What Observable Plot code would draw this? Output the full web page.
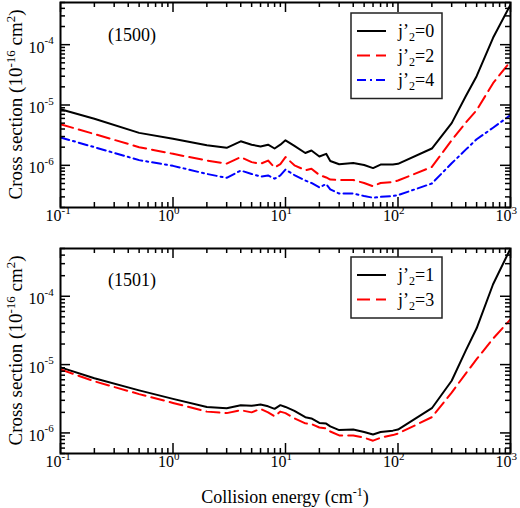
<!DOCTYPE html>
<html>
<head>
<meta charset="utf-8">
<script src="https://cdn.jsdelivr.net/npm/d3@7"></script>
<script src="https://cdn.jsdelivr.net/npm/@observablehq/plot@0.6"></script>
<style>
  body { margin: 0; background: #fff; }
  #chart svg { display: block; }
</style>
</head>
<body>
<div id="chart"></div>
<script>
// collision energies (cm-1), shared by every curve
const energy = [0.1, 0.2, 0.5, 1, 2, 3, 4, 5, 6, 7, 8, 9, 10, 12, 15, 17, 20, 23, 25, 30,
  40, 50, 60, 70, 90, 100, 200, 300, 400, 500, 700, 1000];

// panel (1500)
const j0 = [8.5e-6, 5.9e-6, 3.45e-6, 2.75e-6, 2.15e-6, 1.95e-6, 2.5e-6, 2.2e-6, 2.05e-6, 2.2e-6,
  1.9e-6, 2.2e-6, 2.6e-6, 2.1e-6, 1.6e-6, 1.76e-6, 1.4e-6, 1.55e-6, 1.18e-6, 1.04e-6,
  1.09e-6, 1.01e-6, 0.9e-6, 1.03e-6, 1.03e-6, 1.06e-6, 1.9e-6, 5.0e-6, 1.4e-5, 3.0e-5, 1.3e-4, 4.6e-4];
const j2 = [4.8e-6, 3.3e-6, 2.0e-6, 1.55e-6, 1.2e-6, 1.07e-6, 1.37e-6, 1.13e-6, 1.06e-6, 1.2e-6,
  0.92e-6, 1.05e-6, 1.37e-6, 1.0e-6, 0.83e-6, 0.88e-6, 0.69e-6, 0.63e-6, 0.58e-6, 0.57e-6,
  0.57e-6, 0.51e-6, 0.45e-6, 0.51e-6, 0.53e-6, 0.56e-6, 0.94e-6, 2.6e-6, 5.1e-6, 8.2e-6, 2.3e-5, 5.3e-5];
const j4 = [2.9e-6, 2.0e-6, 1.22e-6, 0.98e-6, 0.72e-6, 0.62e-6, 0.82e-6, 0.72e-6, 0.65e-6, 0.68e-6,
  0.6e-6, 0.68e-6, 0.85e-6, 0.69e-6, 0.56e-6, 0.51e-6, 0.43e-6, 0.49e-6, 0.4e-6, 0.34e-6,
  0.34e-6, 0.31e-6, 0.29e-6, 0.3e-6, 0.31e-6, 0.32e-6, 0.5e-6, 1.08e-6, 1.82e-6, 2.7e-6, 4.2e-6, 6.8e-6];

// panel (1501)
const j1 = [9.1e-6, 6.3e-6, 4.2e-6, 3.15e-6, 2.4e-6, 2.3e-6, 2.55e-6, 2.5e-6, 2.6e-6, 2.45e-6,
  2.25e-6, 2.55e-6, 2.4e-6, 2.1e-6, 1.7e-6, 1.63e-6, 1.4e-6, 1.37e-6, 1.25e-6, 1.1e-6,
  1.12e-6, 1.03e-6, 0.95e-6, 1.03e-6, 1.08e-6, 1.12e-6, 2.3e-6, 5.8e-6, 1.6e-5, 3.4e-5, 1.5e-4, 5.0e-4];
const j3 = [8.5e-6, 5.7e-6, 3.7e-6, 2.75e-6, 2.05e-6, 1.95e-6, 2.15e-6, 2.0e-6, 2.25e-6, 2.0e-6,
  1.75e-6, 2.05e-6, 1.95e-6, 1.64e-6, 1.38e-6, 1.35e-6, 1.2e-6, 1.17e-6, 1.05e-6, 0.92e-6,
  0.92e-6, 0.85e-6, 0.77e-6, 0.85e-6, 0.93e-6, 0.98e-6, 1.7e-6, 3.9e-6, 7.4e-6, 1.2e-5, 2.4e-5, 4.6e-5];

// tick labels (10^exp)
const xTicks = [0.1, 1, 10, 100, 1000];
const xTickExp = ["-1", "0", "1", "2", "3"];
const yTicks = [1e-6, 1e-5, 1e-4];
const yTickExp = ["-6", "-5", "-4"];

const font = "Liberation Serif, Times New Roman, serif";

function minors(lo, hi, e0, e1) {
  const out = [];
  for (let e = e0; e <= e1; e++)
    for (let m = 2; m <= 9; m++) {
      const v = m * Math.pow(10, e);
      if (v >= lo * 0.9999 && v <= hi * 1.0001) out.push(v);
    }
  return out;
}

function panel(opts) {
  const { series, yDomain, height, marginTop, marginBottom, tag, tagY, legendTop, xTitle } = opts;
  const W = 450, H = height - marginTop - marginBottom;
  const xMinor = minors(0.1, 1000, -1, 2);
  const yMinor = minors(yDomain[0], yDomain[1], -7, -4);

  const plot = Plot.plot({
    width: 520, height, marginLeft: 60, marginRight: 10, marginTop, marginBottom,
    style: { fontFamily: font, background: "white", color: "black" },
    x: { type: "log", domain: [0.1, 1000], axis: null },
    y: { type: "log", domain: yDomain, axis: null },
    marks: [
      ...series.map(s => Plot.line(s.values, {
        x: (d, i) => energy[i], y: d => d, stroke: s.color, strokeWidth: 2,
        strokeDasharray: s.dash, clip: true
      })),
      // ticks pointing inward on all four sides
      Plot.ruleX(xMinor, { x: d => d, insetTop: H - 5, strokeWidth: 1.5 }),
      Plot.ruleX(xMinor, { x: d => d, insetBottom: H - 5, strokeWidth: 1.5 }),
      Plot.ruleX(xTicks, { x: d => d, insetTop: H - 10, strokeWidth: 1.5 }),
      Plot.ruleX(xTicks, { x: d => d, insetBottom: H - 10, strokeWidth: 1.5 }),
      Plot.ruleY(yMinor, { y: d => d, insetRight: W - 5, strokeWidth: 1.5 }),
      Plot.ruleY(yMinor, { y: d => d, insetLeft: W - 5, strokeWidth: 1.5 }),
      Plot.ruleY(yTicks, { y: d => d, insetRight: W - 10, strokeWidth: 1.5 }),
      Plot.ruleY(yTicks, { y: d => d, insetLeft: W - 10, strokeWidth: 1.5 }),
      // tick labels
      Plot.text(xTicks, { x: d => d, frameAnchor: "bottom", text: () => "10", textAnchor: "end", dx: 1, dy: 13, fontSize: 16 }),
      Plot.text(xTicks, { x: d => d, frameAnchor: "bottom", text: (d, i) => xTickExp[i], textAnchor: "start", dx: 1, dy: 6, fontSize: 11 }),
      Plot.text(yTicks, { y: d => d, frameAnchor: "left", text: () => "10", textAnchor: "end", dx: -16, dy: 3, fontSize: 16 }),
      Plot.text(yTicks, { y: d => d, frameAnchor: "left", text: (d, i) => yTickExp[i], textAnchor: "start", dx: -16, dy: -4, fontSize: 11 }),
      Plot.frame({ strokeWidth: 2 })
    ]
  });

  const svg = d3.select(plot);

  // y title
  const yt = svg.append("text")
    .attr("transform", `translate(22,${marginTop + H / 2}) rotate(-90)`)
    .attr("text-anchor", "middle").attr("font-family", font).attr("font-size", 19);
  yt.append("tspan").text("Cross section (10");
  yt.append("tspan").attr("font-size", 13).attr("dy", -7).text("-16");
  yt.append("tspan").attr("dy", 7).text(" cm");
  yt.append("tspan").attr("font-size", 13).attr("dy", -7).text("2");
  yt.append("tspan").attr("dy", 7).text(")");

  // panel tag
  svg.append("text").attr("x", 132).attr("y", tagY).attr("text-anchor", "middle")
    .attr("font-family", font).attr("font-size", 18).text(tag);

  // legend
  const lg = svg.append("g").attr("font-family", font).attr("text-anchor", "start");
  lg.append("rect").attr("x", 351).attr("y", legendTop).attr("width", 91)
    .attr("height", series.length * 24.5 + 12)
    .attr("fill", "white").attr("stroke", "#222").attr("stroke-width", 1.5);
  series.forEach((s, i) => {
    const y = legendTop + 18 + i * 24.5;
    lg.append("line").attr("x1", 357).attr("x2", 386).attr("y1", y).attr("y2", y)
      .attr("stroke", s.color).attr("stroke-width", 2).attr("stroke-dasharray", s.dash);
    const t = lg.append("text").attr("x", 398).attr("y", y + 6).attr("font-size", 18);
    t.append("tspan").text("j’");
    t.append("tspan").attr("font-size", 12).attr("dy", 4).text("2");
    t.append("tspan").attr("dy", -4).text("=" + s.j);
  });

  if (xTitle) {
    const xt = svg.append("text").attr("x", 285).attr("y", height - 5)
      .attr("text-anchor", "middle").attr("font-family", font).attr("font-size", 18);
    xt.append("tspan").text("Collision energy (cm");
    xt.append("tspan").attr("font-size", 12).attr("dy", -7).text("-1");
    xt.append("tspan").attr("dy", 7).text(")");
  }
  return plot;
}

const topPanel = panel({
  series: [
    { j: 0, values: j0, color: "black", dash: null },
    { j: 2, values: j2, color: "#ff0000", dash: "13,6" },
    { j: 4, values: j4, color: "#0000ff", dash: "9,4,2,4" }
  ],
  yDomain: [2e-7, 5e-4], height: 232, marginTop: 2, marginBottom: 25,
  tag: "(1500)", tagY: 41, legendTop: 13, xTitle: false
});

const bottomPanel = panel({
  series: [
    { j: 1, values: j1, color: "black", dash: null },
    { j: 3, values: j3, color: "#ff0000", dash: "13,6" }
  ],
  yDomain: [5e-7, 5e-4], height: 276, marginTop: 16, marginBottom: 55,
  tag: "(1501)", tagY: 54, legendTop: 25, xTitle: true
});

d3.select("#chart").append(() => topPanel);
d3.select("#chart").append(() => bottomPanel);
</script>
</body>
</html>
